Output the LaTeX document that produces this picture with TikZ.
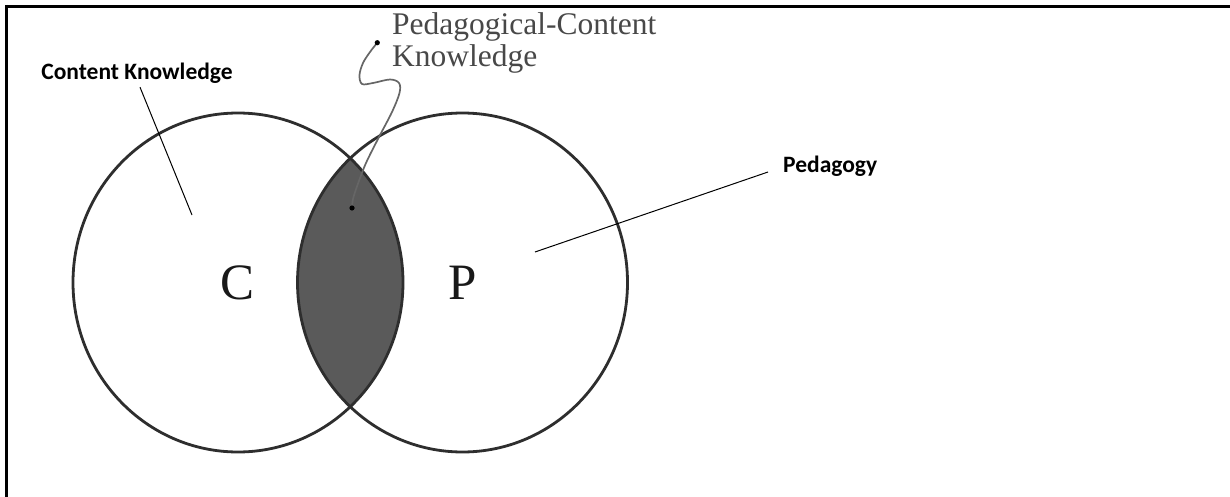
\documentclass[tikz,border=0pt]{standalone}
\usepackage{fontspec}
\setmainfont{Liberation Serif}
\newfontfamily\calibrifont{Carlito}
\definecolor{ringgray}{HTML}{2E2E2E}
\definecolor{lensgray}{HTML}{5A5A5A}
\definecolor{labelgray}{HTML}{484848}
\definecolor{squigglegray}{HTML}{666666}
\begin{document}
\begin{tikzpicture}[x=1pt,y=-1pt,
  ring/.style={draw=ringgray, line width=2.8pt},
  lens/.style={fill=lensgray},
  pointer/.style={draw=black, line width=1pt},
  squiggle/.style={draw=squigglegray, line width=1.7pt, line cap=round},
  enddot/.style={fill=black},
  boldlabel/.style={font=\calibrifont\bfseries\fontsize{23.5}{26}\selectfont, inner sep=0pt, text=black},
  serifgray/.style={font=\fontsize{31.5}{33}\selectfont, inner sep=0pt, text=labelgray},
  setletter/.style={font=\fontsize{51}{54}\selectfont, inner sep=0pt, text=black!90}]
\useasboundingbox (0,0) rectangle (1230,497);
\fill[white] (0,0) rectangle (1230,497);
% frame (top and left edges only)
\draw[line width=3pt] (7,6.5) -- (1230,6.5);
\draw[line width=2.2pt] (6.5,5) -- (6.5,497);

% circle centres
\coordinate (cC) at (238,282.5);
\coordinate (cP) at (462.5,282.5);

% shaded intersection
\begin{scope}
  \clip (cC) ellipse [x radius=165pt, y radius=169.5pt];
  \fill[lens] (cP) ellipse [x radius=165pt, y radius=169.5pt];
\end{scope}
\draw[ring] (cC) ellipse [x radius=165pt, y radius=169.5pt];
\draw[ring] (cP) ellipse [x radius=165pt, y radius=169.5pt];

% letters
\node[setletter] (C) at (238,283) {C};
\node[setletter] (P) at (463,283) {P};

% Content Knowledge label
\node[boldlabel, anchor=base] (ck) at (137,80) {Content Knowledge};
\coordinate (ckEnd) at (192,215);
\draw[pointer] ([xshift=3pt,yshift=-3pt]ck.south) -- (ckEnd);

% Pedagogy label
\node[boldlabel, anchor=base west] (ped) at (783,173) {Pedagogy};
\coordinate (pedEnd) at (535,252);
\draw[pointer] ([xshift=-15pt,yshift=1pt]ped.base west) -- (pedEnd);

% Pedagogical-Content Knowledge label
\node[serifgray, anchor=base west] (pck1) at (392,35) {Pedagogical-Content};
\node[serifgray, anchor=base west] (pck2) at (392,67) {Knowledge};
\coordinate (pckDot) at (377.3,42.7);
\coordinate (pckEnd) at (352,208);
\draw[squiggle] plot[smooth, tension=0.55] coordinates {
  (pckDot) (370,52) (363,63) (359.5,75) (362,84) (373,83) (390,79.5)
  (399,83) (399.5,93) (392,112) (379,137) (366,163) (357.5,185) (353,199) (pckEnd)};
\fill[enddot] (pckDot) circle (2.6pt);
\fill[enddot] (pckEnd) circle (2.6pt);
\end{tikzpicture}
\end{document}
